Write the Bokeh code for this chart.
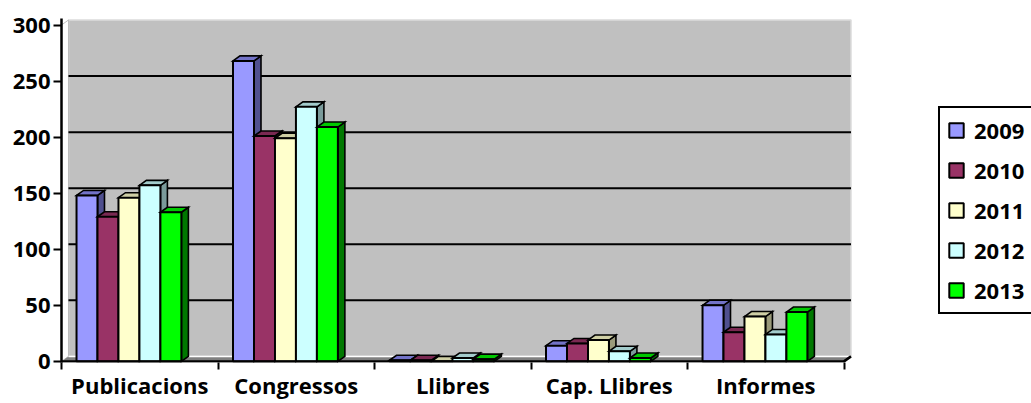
from bokeh.plotting import figure
from bokeh.models import Range1d, FixedTicker, LinearAxis, Legend, LegendItem
from bokeh.embed import file_html
from bokeh.resources import INLINE

# ---- data ----
categories = ["Publicacions", "Congressos", "Llibres", "Cap. Llibres", "Informes"]
years = ["2009", "2010", "2011", "2012", "2013"]
v2009 = [148, 268, 1, 14, 50]
v2010 = [129, 201, 1, 16, 26]
v2011 = [146, 199, 0, 19, 40]
v2012 = [157, 227, 3, 9, 24]
v2013 = [133, 209, 2, 3, 44]
y_ticks = [0, 50, 100, 150, 200, 250, 300]
grid_values = [50, 100, 150, 200, 250]

series = [v2009, v2010, v2011, v2012, v2013]
front_colors = ["#9999FF", "#993366", "#FFFFCC", "#CCFFFF", "#00FF00"]
top_colors = ["#7373c8", "#7a2952", "#cfcfa5", "#a3cccc", "#00c800"]
side_colors = ["#50508f", "#5a1e3c", "#9a9a7a", "#7a9a9a", "#007800"]

# ---- 3D geometry (in data units) ----
DX = 0.0447   # depth shift along x (category units)
DY = 4.46     # depth shift along y (value units)
BAR_W = 0.134
OFF = 0.096
X0, X1 = -0.5, 4.5
YTOP = 300

FONT = "Open Sans"

p = figure(width=1031, height=403, output_backend="svg", toolbar_location=None,
           x_range=Range1d(X0, 5.698), y_range=Range1d(-1, 305.8),
           min_border_left=61, min_border_right=0, min_border_top=18,
           min_border_bottom=41, x_axis_type=None, y_axis_type=None)
p.outline_line_color = None
p.background_fill_color = "white"

# back wall
p.quad(left=[X0 + DX], right=[X1 + DX], bottom=[DY], top=[YTOP + DY],
       fill_color="#C0C0C0", line_color="#dcdcdc", line_width=1.5)
# left side wall
p.patch(x=[X0, X0 + DX, X0 + DX, X0], y=[0, DY, YTOP + DY, YTOP],
        fill_color="#ffffff", line_color="#bdbdbd", line_width=1)
# floor
p.patch(x=[X0, X1, X1 + DX, X0 + DX], y=[0, 0, DY, DY],
        fill_color="#808080", line_color=None)
p.segment(x0=[X0 + DX], y0=[DY], x1=[X1 + DX], y1=[DY], line_color="#ffffff", line_width=1.5)
# gridlines on back wall
p.segment(x0=[X0 + DX] * len(grid_values), y0=[g + DY for g in grid_values],
          x1=[X1 + DX] * len(grid_values), y1=[g + DY for g in grid_values],
          line_color="black", line_width=2)

# bars
front_renderers = []
for s, vals in enumerate(series):
    lefts = [c - 0.5 + OFF + s * BAR_W for c in range(len(categories))]
    rights = [l + BAR_W for l in lefts]
    side_xs = [[r, r + DX, r + DX, r] for r in rights]
    side_ys = [[0, DY, v + DY, v] for v in vals]
    top_xs = [[l, l + DX, r + DX, r] for l, r in zip(lefts, rights)]
    top_ys = [[v, v + DY, v + DY, v] for v in vals]
    p.patches(xs=side_xs, ys=side_ys, fill_color=side_colors[s], line_color="black",
              line_width=1.6, line_join="miter")
    p.patches(xs=top_xs, ys=top_ys, fill_color=top_colors[s], line_color="black",
              line_width=1.6, line_join="miter")
    r = p.quad(left=lefts, right=rights, bottom=[0] * len(vals), top=vals,
               fill_color=front_colors[s], line_color="black", line_width=2)
    front_renderers.append(r)

# front edge of the floor (category axis line)
p.line(x=[X0, X1, X1 + DX], y=[0, 0, DY], line_color="black", line_width=2.5)

# y axis
yaxis = LinearAxis(ticker=FixedTicker(ticks=y_ticks))
yaxis.axis_line_width = 2.5
yaxis.axis_line_color = "black"
yaxis.major_tick_out = 8
yaxis.major_tick_in = 0
yaxis.major_tick_line_width = 2
yaxis.major_tick_line_color = "black"
yaxis.minor_tick_line_color = None
yaxis.major_label_standoff = 3
yaxis.major_label_text_font = FONT
yaxis.major_label_text_font_style = "bold"
yaxis.major_label_text_font_size = "22px"
yaxis.major_label_text_color = "black"
p.add_layout(yaxis, "left")

# x axis: labels at category centres, ticks at category boundaries
xaxis = LinearAxis(ticker=FixedTicker(ticks=[0, 1, 2, 3, 4],
                                      minor_ticks=[-0.5, 0.5, 1.5, 2.5, 3.5, 4.5]))
xaxis.major_label_overrides = {i: c for i, c in enumerate(categories)}
xaxis.axis_line_color = None
xaxis.major_tick_out = 0
xaxis.major_tick_in = 0
xaxis.major_tick_line_color = None
xaxis.minor_tick_out = 7
xaxis.minor_tick_in = 0
xaxis.minor_tick_line_width = 2
xaxis.minor_tick_line_color = "black"
xaxis.major_label_standoff = 0
xaxis.major_label_text_font = FONT
xaxis.major_label_text_font_style = "bold"
xaxis.major_label_text_font_size = "22px"
xaxis.major_label_text_color = "black"
p.add_layout(xaxis, "below")

# legend
legend = Legend(items=[LegendItem(label=y, renderers=[r]) for y, r in zip(years, front_renderers)],
                location=(877, 48))
legend.border_line_color = "black"
legend.border_line_width = 2
legend.border_line_alpha = 1
legend.background_fill_color = "white"
legend.background_fill_alpha = 1
legend.label_text_font = FONT
legend.label_text_font_style = "bold"
legend.label_text_font_size = "22px"
legend.label_text_color = "black"
legend.glyph_width = 18
legend.glyph_height = 18
legend.label_height = 20
legend.label_standoff = 9
legend.spacing = 10
legend.padding = 7
legend.margin = 0
p.add_layout(legend)

open("out.html", "w").write(file_html(p, INLINE))
